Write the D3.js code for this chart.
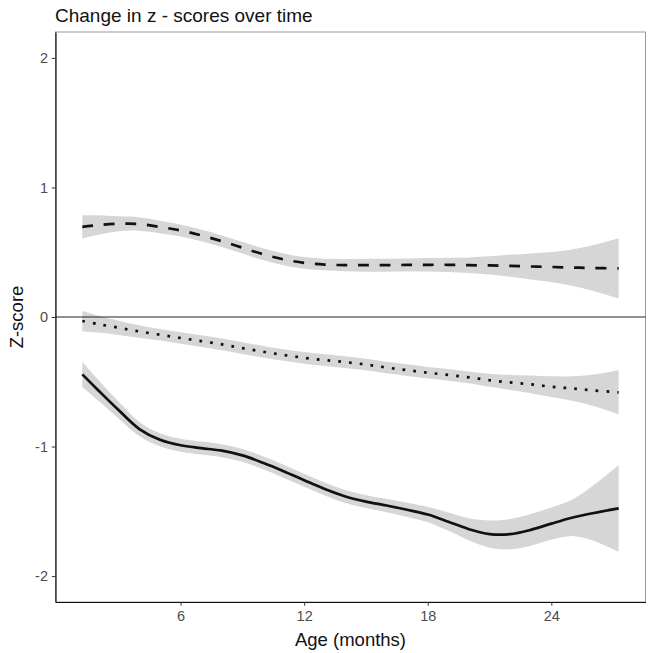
<!DOCTYPE html>
<html>
<head>
<meta charset="utf-8">
<script src="https://cdn.jsdelivr.net/npm/d3@7"></script>
<style>
  body { margin: 0; background: #fff; }
  svg { font-family: "Liberation Sans", Arial, Helvetica, sans-serif; }
</style>
</head>
<body>
<svg></svg>
<script>
// chart values
const months = [1.23, 2, 3, 4, 5, 6, 7, 8, 9, 10, 11, 12, 13, 14, 15, 16, 17, 18, 19, 20, 21, 22, 23, 24, 25, 26, 27.27];

// upper curve (dashed)
const dashedFit = [0.696, 0.71, 0.72, 0.718, 0.695, 0.668, 0.63, 0.585, 0.535, 0.485, 0.445, 0.418, 0.405, 0.40, 0.40, 0.40, 0.402, 0.403, 0.403, 0.40, 0.398, 0.395, 0.39, 0.386, 0.382, 0.378, 0.375];
const dashedSe  = [0.09, 0.075, 0.058, 0.052, 0.048, 0.046, 0.045, 0.045, 0.045, 0.045, 0.045, 0.045, 0.045, 0.047, 0.05, 0.05, 0.05, 0.052, 0.055, 0.06, 0.07, 0.085, 0.1, 0.115, 0.14, 0.175, 0.232];

// middle curve (dotted)
const dottedFit = [-0.031, -0.055, -0.083, -0.112, -0.137, -0.162, -0.186, -0.211, -0.24, -0.268, -0.293, -0.315, -0.333, -0.348, -0.367, -0.39, -0.41, -0.43, -0.447, -0.466, -0.488, -0.505, -0.52, -0.538, -0.552, -0.566, -0.582];
const dottedSe  = [0.08, 0.065, 0.055, 0.048, 0.045, 0.045, 0.045, 0.045, 0.045, 0.045, 0.045, 0.045, 0.045, 0.045, 0.045, 0.045, 0.045, 0.045, 0.045, 0.046, 0.05, 0.058, 0.068, 0.08, 0.095, 0.12, 0.17];

// lower curve (solid)
const solidFit = [-0.443, -0.565, -0.72, -0.865, -0.948, -0.99, -1.012, -1.032, -1.068, -1.125, -1.19, -1.26, -1.328, -1.385, -1.425, -1.455, -1.488, -1.525, -1.58, -1.638, -1.676, -1.676, -1.643, -1.595, -1.55, -1.515, -1.477];
const solidSe  = [0.097, 0.08, 0.065, 0.055, 0.05, 0.05, 0.05, 0.05, 0.05, 0.05, 0.05, 0.05, 0.05, 0.05, 0.05, 0.052, 0.055, 0.06, 0.07, 0.085, 0.105, 0.117, 0.122, 0.125, 0.14, 0.21, 0.335];

const xTicks = [6, 12, 18, 24];
const yTicks = [-2, -1, 0, 1, 2];

const titleText = "Change in z - scores over time";
const xTitle = "Age (months)";
const yTitle = "Z-score";

// canvas
const svgSize = { width: 652, height: 653 };
const panel = { left: 55.5, right: 645.5, top: 32, bottom: 602 };

const svg = d3.select("svg")
  .attr("width", svgSize.width)
  .attr("height", svgSize.height);

// scales (ggplot style 5% expansion on x)
const xExt = d3.extent(months);
const xPad = (xExt[1] - xExt[0]) * 0.05;
const x = d3.scaleLinear()
  .domain([xExt[0] - xPad, xExt[1] + xPad])
  .range([panel.left, panel.right]);
const y = d3.scaleLinear()
  .domain([-2.2, 2.2])
  .range([panel.bottom, panel.top]);

// panel border
svg.append("rect")
  .attr("x", panel.left)
  .attr("y", panel.top)
  .attr("width", panel.right - panel.left)
  .attr("height", panel.bottom - panel.top)
  .attr("fill", "none")
  .attr("stroke", "#9a9a9a")
  .attr("stroke-width", 1);

const series = [
  { fit: dashedFit, se: dashedSe, dash: "10.8,10.8" },
  { fit: dottedFit, se: dottedSe, dash: "2.7,8.1" },
  { fit: solidFit, se: solidSe, dash: null }
];

const area = d3.area()
  .x(d => x(d.m))
  .y0(d => y(d.f - d.s))
  .y1(d => y(d.f + d.s))
  .curve(d3.curveCatmullRom);
const line = d3.line()
  .x(d => x(d.m))
  .y(d => y(d.f))
  .curve(d3.curveCatmullRom);

// ribbons first
series.forEach(s => {
  s.rows = months.map((m, i) => ({ m: m, f: s.fit[i], s: s.se[i] }));
  svg.append("path")
    .attr("d", area(s.rows))
    .attr("fill", "#999999")
    .attr("fill-opacity", 0.4);
});

// zero line
svg.append("line")
  .attr("x1", panel.left).attr("x2", panel.right)
  .attr("y1", y(0)).attr("y2", y(0))
  .attr("stroke", "#222")
  .attr("stroke-width", 1.1);

// fitted lines
series.forEach(s => {
  svg.append("path")
    .attr("d", line(s.rows))
    .attr("fill", "none")
    .attr("stroke", "#111")
    .attr("stroke-width", 2.7)
    .attr("stroke-linecap", "butt")
    .attr("stroke-dasharray", s.dash);
});

// axes
const xAxis = svg.append("g")
  .attr("transform", `translate(0,${panel.bottom})`)
  .call(d3.axisBottom(x).tickValues(xTicks).tickFormat(d => String(d))
    .tickSize(3.7).tickSizeOuter(0).tickPadding(5.5));
const yAxis = svg.append("g")
  .attr("transform", `translate(${panel.left},0)`)
  .call(d3.axisLeft(y).tickValues(yTicks).tickFormat(d => String(d))
    .tickSize(3.7).tickSizeOuter(0).tickPadding(3.8));

[xAxis, yAxis].forEach(a => {
  a.select(".domain").attr("stroke", "#111").attr("stroke-width", 1.2);
  a.selectAll(".tick line").attr("stroke", "#333").attr("stroke-width", 1);
  a.selectAll(".tick text")
    .attr("fill", "#4d4d4d")
    .style("font-size", "14.5px")
    .style("font-family", "'Liberation Sans', Arial, sans-serif");
});

// titles
svg.append("text")
  .attr("x", 55)
  .attr("y", 21.5)
  .attr("fill", "#111")
  .style("font-size", "19px")
  .text(titleText);

svg.append("text")
  .attr("x", (panel.left + panel.right) / 2)
  .attr("y", 646)
  .attr("text-anchor", "middle")
  .attr("fill", "#111")
  .style("font-size", "18.5px")
  .text(xTitle);

svg.append("text")
  .attr("transform", `translate(23,${(panel.top + panel.bottom) / 2}) rotate(-90)`)
  .attr("text-anchor", "middle")
  .attr("fill", "#111")
  .style("font-size", "18.5px")
  .text(yTitle);
</script>
</body>
</html>
